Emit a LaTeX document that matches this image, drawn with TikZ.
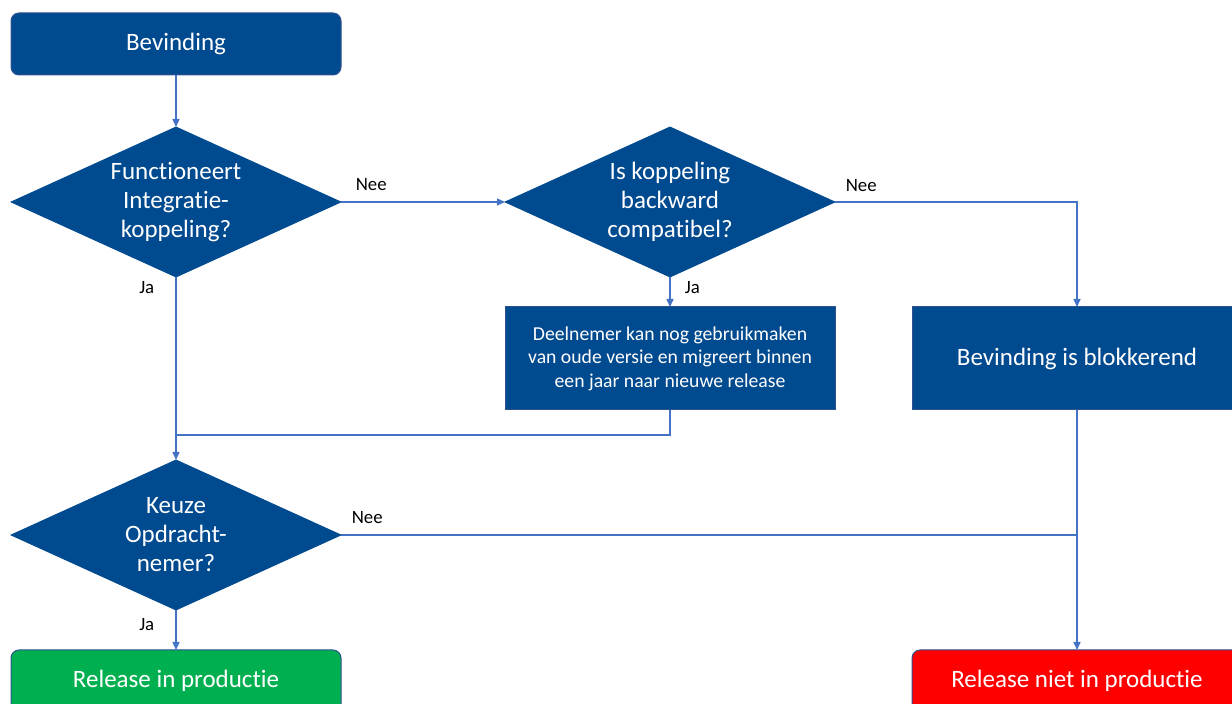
\documentclass[tikz,border=0pt]{standalone}
\usepackage{fontspec}
\setmainfont{Carlito}[Ligatures={NoCommon,NoRare,NoContextual}]
\usetikzlibrary{shapes.geometric, arrows.meta, positioning}

\definecolor{darkblue}{RGB}{0,74,143}
\definecolor{edgeblue}{RGB}{47,82,143}
\definecolor{linkblue}{RGB}{68,114,196}
\definecolor{okgreen}{RGB}{0,176,80}
\definecolor{nored}{RGB}{255,0,0}

\begin{document}
\begin{tikzpicture}[
  x=0.5pt, y=-0.5pt,
  node distance=26pt and 82pt,
  box/.style={rectangle, draw=edgeblue, line width=0.5pt, fill=#1, text=white,
              minimum width=165pt, minimum height=31pt, inner sep=2pt, outer sep=0pt,
              align=center, font=\fontsize{12.5}{14.6}\selectfont},
  box/.default=darkblue,
  roundbox/.style={box=#1, rounded corners=4pt},
  roundbox/.default=darkblue,
  decision/.style={diamond, aspect=2.2, draw=darkblue, fill=darkblue, text=white,
                   minimum width=165pt, minimum height=75pt, inner sep=0pt, outer sep=0pt,
                   align=center, font=\fontsize{12.5}{14.5}\selectfont},
  arrow/.style={-{Triangle[length=4pt, width=3.5pt]}, line width=0.75pt, linkblue},
  line/.style={line width=0.75pt, linkblue},
  answer/.style={font=\fontsize{9.4}{11}\selectfont, text=black, inner sep=0pt}
]
\clip (0,0) rectangle (1232,704);

\node[roundbox] (bev) at (176,44) {Bevinding};
\node[decision, below=of bev]  (func)   {Functioneert\\Integratie-\\koppeling?};
\node[decision, right=of func] (compat) {Is koppeling\\backward\\compatibel?};
\node[box, below=15pt of compat, minimum height=51.5pt,
      font=\fontsize{9.85}{11.75}\selectfont] (deeln)
      {Deelnemer kan nog gebruikmaken\\van oude versie en migreert binnen\\een jaar naar nieuwe release};
\node[box, right=38.5pt of deeln, minimum height=51.5pt] (blok) {Bevinding is blokkerend};
\node[decision, below=91.5pt of func] (keuze) {Keuze\\Opdracht-\\nemer?};
\node[roundbox=okgreen, below=20pt of keuze] (prod) {Release in productie};
\node[roundbox=nored, below=120pt of blok]   (niet) {Release niet in productie};

\coordinate (merge) at (176,435);
\coordinate (join)  at (keuze.east -| blok.south);

\draw[arrow] (bev)    -- (func);
\draw[arrow] (func)   -- node[answer, pos=0, anchor=south west, xshift=7pt, yshift=5.5pt]{Nee} (compat);
\draw[arrow] (compat) -| node[answer, pos=0, anchor=south west, xshift=5pt, yshift=5pt]{Nee} (blok);
\draw[arrow] (compat) -- node[answer, pos=0, anchor=north west, xshift=7pt, yshift=-2pt]{Ja} (deeln);
\draw[arrow] (func)   -- node[answer, pos=0, anchor=north east, xshift=-10.5pt, yshift=-2pt]{Ja} (keuze);
\draw[line]  (deeln)  |- (merge);
\draw[line]  (keuze.east) -- node[answer, pos=0, anchor=south west, xshift=5pt, yshift=5.5pt]{Nee} (join);
\draw[arrow] (blok)   -- (niet);
\draw[arrow] (keuze)  -- node[answer, pos=0, anchor=north east, xshift=-10.5pt, yshift=-4pt]{Ja} (prod);

\end{tikzpicture}
\end{document}
